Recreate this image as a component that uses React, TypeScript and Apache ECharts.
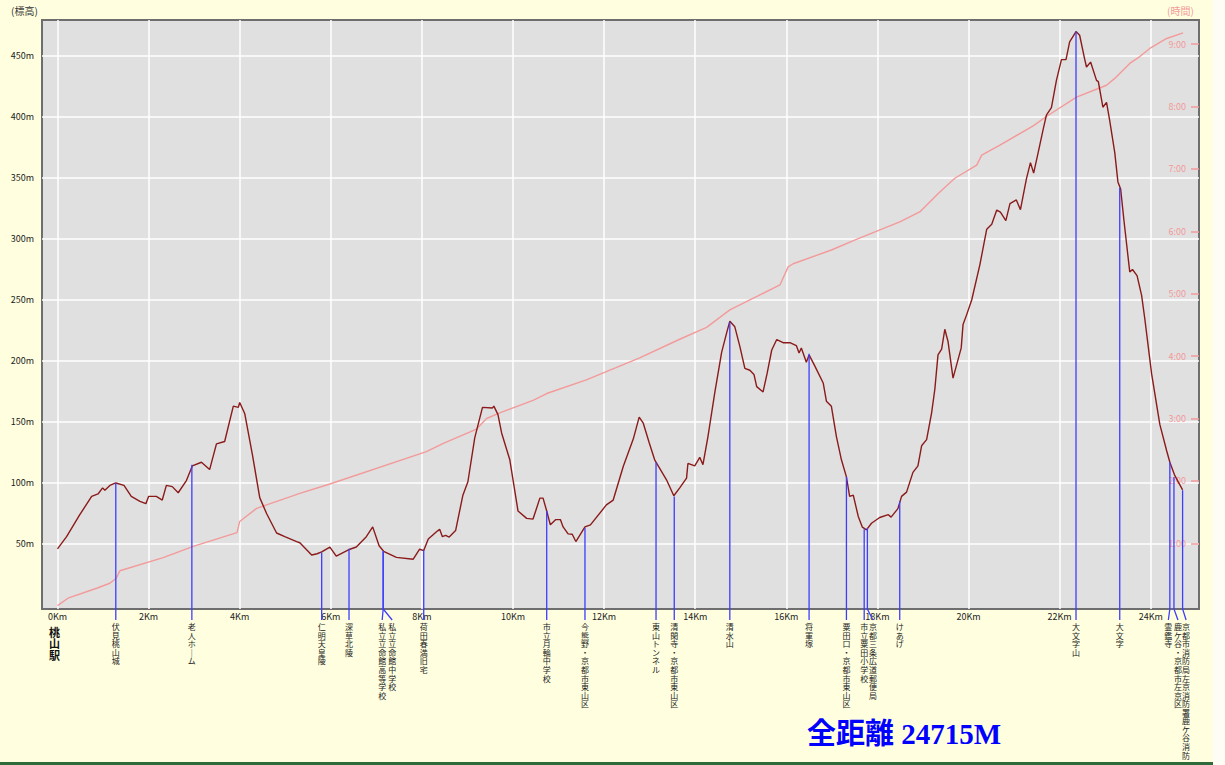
import React, { useEffect, useRef } from "react";
import * as echarts from "echarts";

// ---------------- data ----------------
const ELEV_KM = [
  0.0, 0.2, 0.49, 0.75, 0.89, 0.99, 1.04, 1.15, 1.28, 1.46, 1.62, 1.81, 1.94, 2.0, 2.17, 2.3, 2.39, 2.52, 2.65, 2.83,
  2.96, 3.16, 3.34, 3.49, 3.67, 3.86, 3.97, 4.0, 4.11, 4.28, 4.44, 4.59, 4.81, 4.99, 5.25, 5.32, 5.58, 5.7, 5.8, 5.98,
  6.12, 6.42, 6.56, 6.78, 6.92, 7.06, 7.16, 7.44, 7.81, 7.95, 8.04, 8.14, 8.32, 8.39, 8.45, 8.52, 8.6, 8.74, 8.9, 9.01,
  9.16, 9.33, 9.55, 9.58, 9.67, 9.75, 9.93, 10.11, 10.3, 10.44, 10.59, 10.66, 10.74, 10.82, 10.94, 11.04, 11.1, 11.21,
  11.3, 11.38, 11.58, 11.7, 12.05, 12.2, 12.42, 12.64, 12.77, 12.86, 12.99, 13.11, 13.37, 13.53, 13.66, 13.81, 13.84,
  13.99, 14.1, 14.17, 14.28, 14.43, 14.58, 14.69, 14.76, 14.87, 14.98, 15.09, 15.2, 15.29, 15.35, 15.49, 15.58, 15.68,
  15.79, 15.93, 16.08, 16.22, 16.28, 16.33, 16.44, 16.5, 16.63, 16.81, 16.88, 16.99, 17.1, 17.21, 17.32, 17.39, 17.47,
  17.58, 17.67, 17.76, 17.87, 18.05, 18.24, 18.3, 18.45, 18.53, 18.64, 18.78, 18.89, 18.97, 19.08, 19.19, 19.26, 19.33,
  19.41, 19.48, 19.55, 19.66, 19.84, 19.88, 19.96, 20.07, 20.25, 20.4, 20.51, 20.62, 20.7, 20.82, 20.91, 21.05, 21.14,
  21.27, 21.36, 21.43, 21.53, 21.64, 21.71, 21.82, 21.93, 22.04, 22.14, 22.22, 22.36, 22.44, 22.55, 22.59, 22.68, 22.81,
  22.85, 22.95, 23.03, 23.1, 23.21, 23.28, 23.34, 23.41, 23.54, 23.6, 23.7, 23.8, 23.87, 24.02, 24.2, 24.35, 24.42, 24.53,
  24.7,
];
const ELEV_M = [
  46, 56, 74, 89, 91, 96, 94, 98, 100, 98, 89, 85, 83, 89, 89, 86, 98, 97, 92, 102,
  114, 117, 111, 132, 134, 163, 162, 166, 157, 123, 88, 75, 59, 56, 52, 51, 41, 42, 43.5, 47.5,
  40, 45.7, 47.5, 56, 64, 48.5, 44, 39, 37.5, 45.7, 44.6, 54, 60, 62, 56, 57, 55.7, 61, 90, 101,
  137, 162, 161.5, 163, 156, 141, 119, 77, 71, 70.4, 87.6, 87.6, 77, 65.7, 70, 70, 64, 58.3,
  58, 52, 64, 65.7, 82, 86, 113.5, 136, 154, 149, 133, 119, 102.6, 89.5, 96, 104, 116,
  114, 121, 115, 138, 174, 207, 223, 232.6, 228, 212, 194, 192.4, 189, 179, 174.6, 190, 209,
  217.6, 215, 215, 212.6, 206.6, 210.7, 199, 205, 195.6, 182, 167, 162.8, 138, 119, 105, 89, 90,
  72.5, 63.8, 61.6, 67, 71.7, 74, 72, 79, 89, 92.5, 108.7, 114, 130.5, 135.5, 157.5, 176.6, 205,
  209.7, 226, 216, 186, 210.7, 230, 238, 250, 279, 308, 312, 323.7, 322, 315, 329, 332, 324,
  349, 362.6, 354, 371, 390, 401.5, 407.6, 430, 447, 447, 461.6, 470, 467, 447.5, 441, 445, 430,
  429, 408, 412, 397, 371, 346.8, 341, 316, 272.9, 275, 270, 253.7, 234.6, 189.4, 148, 126.4, 117, 106,
  94.4,
];

const TIME_KM = [
  0.0, 0.23, 0.86, 1.15, 1.29, 1.37, 2.32, 2.98, 3.94, 4.0, 4.37, 5.32, 5.98, 8.1, 8.47, 9.2, 9.42, 9.71, 10.44, 10.74,
  11.61, 12.78, 13.66, 14.25, 14.76, 15.42, 15.86, 16.04, 16.15, 16.99, 17.5, 18.49, 18.93, 19.37, 19.7, 20.18, 20.29,
  20.69, 21.42, 21.71, 22.37, 23.03, 23.21, 23.54, 23.76, 23.98, 24.35, 24.71,
];
const TIME_H = [
  0, 0.12, 0.28, 0.36, 0.44, 0.56, 0.77, 0.95, 1.17, 1.35, 1.56, 1.8, 1.95, 2.47, 2.6, 2.83, 3.0, 3.09, 3.29, 3.4,
  3.62, 3.97, 4.27, 4.46, 4.74, 4.98, 5.14, 5.43, 5.48, 5.7, 5.86, 6.15, 6.31, 6.63, 6.85, 7.06, 7.22,
  7.38, 7.69, 7.84, 8.15, 8.34, 8.45, 8.69, 8.8, 8.93, 9.09, 9.18,
];

const X_TICKS = [0, 2, 4, 6, 8, 10, 12, 14, 16, 18, 20, 22, 24];
const ELEV_TICKS = [50, 100, 150, 200, 250, 300, 350, 400, 450];
const TIME_TICKS = [1, 2, 3, 4, 5, 6, 7, 8, 9];

const LANDMARK_NAMES = [
  "伏見桃山城",
  "老人ホーム",
  "仁明天皇陵",
  "深草北陵",
  "私立立命館高等学校",
  "私立立命館中学校",
  "荷田春満旧宅",
  "市立月輪中学校",
  "今熊野・京都市東山区",
  "東山トンネル",
  "清閑寺・京都市東山区",
  "清水山",
  "将軍塚",
  "粟田口・京都市東山区",
  "市立粟田小学校",
  "京都三条広道郵便局",
  "けあげ",
  "大文字山",
  "大文字",
  "霊鑑寺",
  "鹿ケ谷・京都市左京区",
  "京都市消防局左京消防署鹿ケ谷消防",
];
const LANDMARK_KM = [
  1.28, 2.95, 5.8, 6.4, 7.15, 7.15, 8.04, 10.74, 11.58, 13.14, 13.54, 14.76, 16.5, 17.32, 17.71, 17.78, 18.49, 22.36,
  23.32, 24.42, 24.51, 24.7,
];
const LANDMARK_ELEV = [
  100, 115, 43, 46, 44, 44, 45, 77, 63, 117, 89, 232, 206, 105, 62, 63, 85, 470, 342, 117, 105, 94,
];

const START_NAME = "桃山駅";
const START_KM = 0;
const TOTAL_DISTANCE_M = 24715;

// ---------------- layout / style ----------------
const W = 1225;
const H = 765;
const GRID = { left: 42, top: 20, width: 1157, height: 589 };
const X_MIN = -0.34;
const X_MAX = 25.06;
const ELEV_MIN = -3.3;
const ELEV_MAX = 479.5;
const TIME_MIN = -0.053;
const TIME_MAX = 9.386;
// leader line sideways shift (px) for crowded labels, by landmark index
const LEADER_SHIFT: Record<number, number> = { 4: -1, 5: 9, 15: 5.5, 19: -1.5, 20: 4, 21: 3.5 };

const FONT = "'Noto Sans CJK JP', 'Noto Sans', sans-serif";
const PINK = "#F39A9A";
const BLUE_LINE = "#3D3DFF";

function verticalize(s: string): string {
  return s
    .split("")
    .map((c) => (c === "ー" ? "｜" : c))
    .join("\n");
}

export default function App() {
  const ref = useRef<HTMLDivElement>(null);

  useEffect(() => {
    if (!ref.current) return;
    const chart = echarts.init(ref.current, undefined, { renderer: "svg" });

    const elevData = ELEV_KM.map((k, i) => [k, ELEV_M[i]]);
    const timeData = TIME_KM.map((k, i) => [k, TIME_H[i]]);
    const landmarkData = LANDMARK_KM.map((k, i) => [k, LANDMARK_ELEV[i]]);

    const option: any = {
      animation: false,
      backgroundColor: "#FFFFE0",
      grid: {
        left: GRID.left,
        top: GRID.top,
        width: GRID.width,
        height: GRID.height,
        show: true,
        backgroundColor: "#E0E0E0",
        borderColor: "#6E6E6E",
        borderWidth: 2,
        containLabel: false,
        outerBoundsMode: "none",
      },
      xAxis: {
        type: "value",
        min: X_MIN,
        max: X_MAX,
        axisLine: { show: false },
        axisTick: { show: false, customValues: X_TICKS },
        axisLabel: {
          customValues: X_TICKS,
          formatter: (v: number) => `${v}Km`,
          margin: 3,
          fontSize: 9,
          fontFamily: FONT,
          color: "#222",
        },
        splitLine: { show: true, lineStyle: { color: "#FFFFFF", width: 1.5 } },
      },
      yAxis: [
        {
          type: "value",
          min: ELEV_MIN,
          max: ELEV_MAX,
          axisLine: { show: false },
          axisTick: { show: false, customValues: ELEV_TICKS },
          axisLabel: {
            customValues: ELEV_TICKS,
            formatter: (v: number) => `${v}m`,
            margin: 8,
            fontSize: 9,
            fontFamily: FONT,
            color: "#222",
          },
          splitLine: { show: true, lineStyle: { color: "#FFFFFF", width: 1.5 } },
        },
        {
          type: "value",
          position: "right",
          min: TIME_MIN,
          max: TIME_MAX,
          axisLine: { show: false },
          axisTick: {
            show: true,
            inside: true,
            length: 8,
            customValues: TIME_TICKS,
            lineStyle: { color: PINK, width: 1.5 },
          },
          axisLabel: {
            inside: true,
            customValues: TIME_TICKS,
            formatter: (v: number) => `${v}:00`,
            margin: 13,
            fontSize: 9,
            fontFamily: FONT,
            color: PINK,
          },
          splitLine: { show: false },
        },
      ],
      series: [
        {
          type: "line",
          name: "時間",
          yAxisIndex: 1,
          data: timeData,
          symbol: "none",
          silent: true,
          lineStyle: { color: PINK, width: 1.4 },
          z: 2,
        },
        {
          type: "line",
          name: "標高",
          yAxisIndex: 0,
          data: elevData,
          symbol: "none",
          silent: true,
          lineStyle: { color: "#8B1A1A", width: 1.4 },
          z: 3,
        },
        {
          type: "custom",
          name: "地点",
          yAxisIndex: 0,
          data: landmarkData,
          silent: true,
          clip: false,
          z: 4,
          encode: { x: 0, y: 1 },
          renderItem: (params: any, api: any) => {
            const i = params.dataIndex;
            const top = api.coord([api.value(0), api.value(1)]);
            const cs = params.coordSys;
            const bottom = cs.y + cs.height;
            const shift = LEADER_SHIFT[i] ?? 0;
            const x = top[0];
            return {
              type: "group",
              children: [
                {
                  type: "polyline",
                  shape: {
                    points: [
                      [x, top[1]],
                      [x, bottom],
                      [x + shift, bottom + 11],
                    ],
                  },
                  style: { stroke: BLUE_LINE, lineWidth: 1.3, fill: null },
                },
                {
                  type: "text",
                  x: x + shift,
                  y: bottom + 13.5,
                  style: {
                    text: verticalize(LANDMARK_NAMES[i]),
                    align: "center",
                    verticalAlign: "top",
                    fontSize: 8,
                    lineHeight: 8.55,
                    fontFamily: FONT,
                    fill: "#222",
                  },
                },
              ],
            };
          },
        },
        {
          type: "custom",
          name: "出発",
          yAxisIndex: 0,
          data: [[START_KM, 0]],
          silent: true,
          clip: false,
          z: 4,
          encode: { x: 0, y: 1 },
          renderItem: (params: any, api: any) => {
            const p = api.coord([api.value(0), api.value(1)]);
            const cs = params.coordSys;
            const bottom = cs.y + cs.height;
            return {
              type: "text",
              x: p[0] - 3,
              y: bottom + 17,
              style: {
                text: verticalize(START_NAME),
                align: "center",
                verticalAlign: "top",
                fontSize: 11,
                lineHeight: 11.5,
                fontWeight: "bold",
                fontFamily: FONT,
                fill: "#111",
              },
            };
          },
        },
      ],
      graphic: [
        {
          type: "rect",
          left: 1213,
          top: 0,
          shape: { width: W - 1213, height: H },
          style: { fill: "#FDFDF6" },
          silent: true,
        },
        {
          type: "rect",
          left: 0,
          top: 762,
          shape: { width: 1213, height: 3 },
          style: { fill: "#2F6B3A" },
          silent: true,
        },
        {
          type: "text",
          left: 11,
          top: 5,
          style: { text: "(標高)", fontSize: 10, fontFamily: FONT, fill: "#333" },
          silent: true,
        },
        {
          type: "text",
          left: 1167,
          top: 5,
          style: { text: "(時間)", fontSize: 10, fontFamily: FONT, fill: PINK },
          silent: true,
        },
        {
          type: "text",
          left: 807,
          top: 719,
          style: {
            text: `全距離 ${TOTAL_DISTANCE_M}M`,
            fontSize: 29,
            fontWeight: "bold",
            fontFamily: "'Liberation Serif', 'DejaVu Serif', 'Noto Sans CJK JP', serif",
            fill: "#0000FF",
          },
          silent: true,
        },
      ],
    };

    chart.setOption(option);
    return () => {
      chart.dispose();
    };
  }, []);

  return (
    <div
      ref={ref}
      style={{ position: "absolute", left: 0, top: 0, width: W, height: H, overflow: "hidden" }}
    />
  );
}
